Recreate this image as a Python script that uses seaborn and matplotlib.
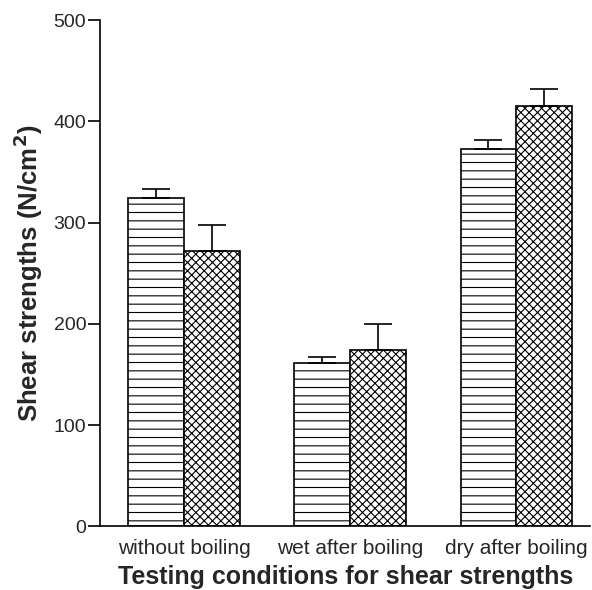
import pandas as pd
import numpy as np
import matplotlib
matplotlib.use("Agg")
import matplotlib.pyplot as plt
import seaborn as sns

# data
conditions = ["without boiling", "wet after boiling", "dry after boiling"]
groups = ["A", "B"]
means_a = [324, 161, 373]
means_b = [272, 174, 415]
err_a = [9, 6, 9]
err_b = [26, 26, 17]

df = pd.DataFrame({
    "condition": conditions * 2,
    "group": [groups[0]] * 3 + [groups[1]] * 3,
    "value": means_a + means_b,
    "err": err_a + err_b,
})

sns.set_style("ticks")
plt.rcParams["font.family"] = ["Liberation Sans", "DejaVu Sans"]
plt.rcParams["hatch.linewidth"] = 0.8

fig = plt.figure(figsize=(5.92, 5.90), dpi=100)
ax = fig.add_axes([0.169, 0.108, 0.828, 0.858])

sns.barplot(
    data=df, x="condition", y="value", hue="group",
    order=conditions, hue_order=groups,
    color="white", edgecolor="black", linewidth=1.2,
    width=0.67, errorbar=None, legend=False, ax=ax,
)

hatches = ["--", "xxxx"]
for container, hatch, errs, vals in zip(ax.containers, hatches, [err_a, err_b], [means_a, means_b]):
    for bar in container:
        bar.set_facecolor("white")
        bar.set_hatch(hatch)
    xs = [b.get_x() + b.get_width() / 2 for b in container]
    ax.errorbar(xs, vals, yerr=[np.zeros(len(errs)), errs], fmt="none",
                ecolor="black", elinewidth=1.2, capsize=10, capthick=1.2)

ax.set_ylim(0, 500)
ax.set_xlim(-0.506, 2.446)
ax.set_yticks([0, 100, 200, 300, 400, 500])
ax.tick_params(axis="y", labelsize=14, length=9, width=1.2, pad=1, color="black")
ax.tick_params(axis="x", labelsize=15, length=0, pad=9)
for side in ["top", "right"]:
    ax.spines[side].set_visible(False)
for side in ["left", "bottom"]:
    ax.spines[side].set_linewidth(1.2)
    ax.spines[side].set_color("black")

ax.set_xlabel("Testing conditions for shear strengths", fontsize=18, fontweight="bold", labelpad=5)
ax.set_ylabel("Shear strengths (N/cm$^\\mathbf{2}$)", fontsize=18.5, fontweight="bold", labelpad=6)

fig.savefig("out.png", dpi=100)
